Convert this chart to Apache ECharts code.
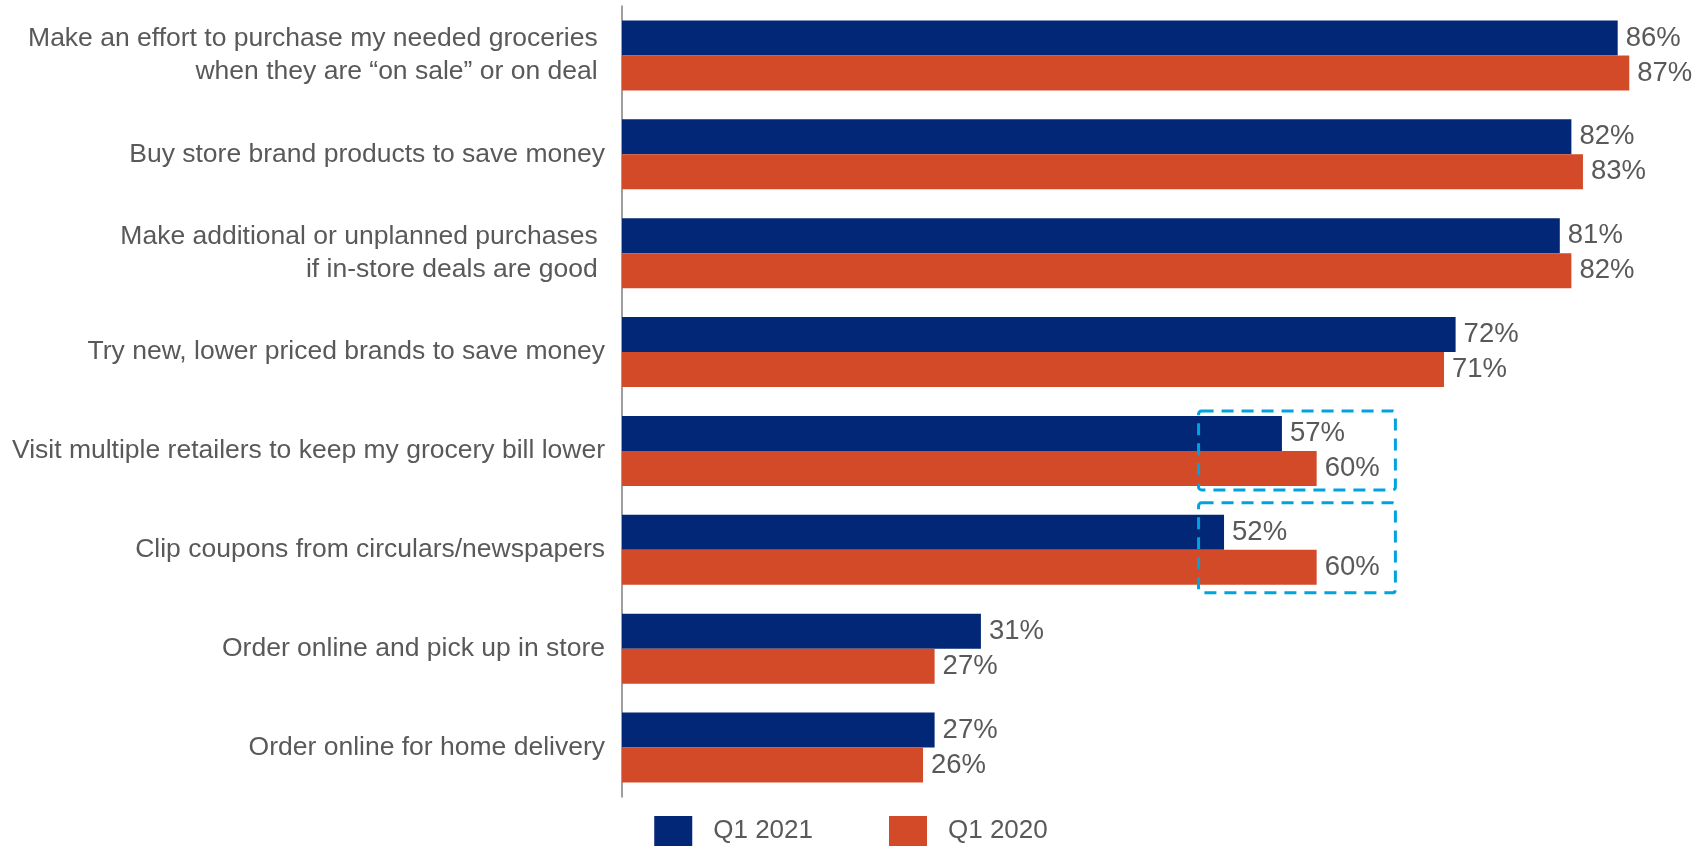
<!DOCTYPE html>
<html>
<head>
<meta charset="utf-8">
<style>
  html, body { margin: 0; padding: 0; background: #ffffff; }
  #chart { width: 1702px; height: 846px; }
</style>
<script src="https://cdn.jsdelivr.net/npm/echarts@6/dist/echarts.min.js"></script>
</head>
<body>
<div id="chart"></div>
<script>
// Grocery saving behaviours, share of shoppers (%)
const categories = [
  'Make an effort to purchase my needed groceries \nwhen they are \u201Con sale\u201D or on deal ',
  'Buy store brand products to save money',
  'Make additional or unplanned purchases \nif in-store deals are good ',
  'Try new, lower priced brands to save money',
  'Visit multiple retailers to keep my grocery bill lower',
  'Clip coupons from circulars/newspapers',
  'Order online and pick up in store',
  'Order online for home delivery'
];
const seriesNames = ['Q1 2021', 'Q1 2020'];
const q1_2021 = [86, 82, 81, 72, 57, 52, 31, 27];
const q1_2020 = [87, 83, 82, 71, 60, 60, 27, 26];
// Rows called out with a dashed outline
const highlightedRows = [4, 5];

const NAVY = '#012776';
const ORANGE = '#D34A29';
const TEXT = '#595959';
const FONT = '"Liberation Sans", Arial, sans-serif';

const chart = echarts.init(document.getElementById('chart'));

const valueLabel = {
  show: true,
  position: 'right',
  distance: 8,
  formatter: '{c}%',
  color: TEXT,
  fontFamily: FONT,
  fontSize: 27.5,
  padding: [4, 0, 0, 0]
};

chart.setOption({
  animation: false,
  backgroundColor: '#ffffff',
  grid: { left: 622, right: 38, top: 6, bottom: 49, containLabel: false },
  xAxis: {
    type: 'value',
    min: 0,
    max: 90,
    show: false
  },
  yAxis: {
    type: 'category',
    data: categories,
    inverse: true,
    axisLine: { show: true, lineStyle: { color: '#7f7f7f', width: 1.5 } },
    axisTick: { show: false },
    axisLabel: {
      margin: 17,
      color: TEXT,
      fontFamily: FONT,
      fontSize: 26.5,
      lineHeight: 33,
      align: 'right',
      padding: [5, 0, 0, 0]
    }
  },
  legend: {
    data: seriesNames,
    left: 'center',
    top: 811,
    itemWidth: 38,
    itemHeight: 30,
    itemGap: 76,
    icon: 'rect',
    textStyle: { color: TEXT, fontFamily: FONT, fontSize: 26, padding: [0, 0, 0, 16] }
  },
  series: [
    {
      name: seriesNames[0],
      type: 'bar',
      data: q1_2021,
      barWidth: 35,
      barGap: '0%',
      itemStyle: { color: NAVY },
      label: valueLabel
    },
    {
      name: seriesNames[1],
      type: 'bar',
      data: q1_2020,
      barWidth: 35,
      barGap: '0%',
      itemStyle: { color: ORANGE },
      label: valueLabel
    }
  ]
});

// Dashed call-out boxes around the highlighted rows
const boxFrom = 49.8, boxTo = 66.8;
const boxExtents = [[-40, 39], [-47, 43]];
const graphics = highlightedRows.map((row, i) => {
  const a = chart.convertToPixel({ gridIndex: 0 }, [boxFrom, row]);
  const b = chart.convertToPixel({ gridIndex: 0 }, [boxTo, row]);
  const [up, down] = boxExtents[i];
  return {
    type: 'rect',
    shape: { x: a[0], y: a[1] + up, width: b[0] - a[0], height: down - up, r: 3 },
    style: { fill: 'none', stroke: '#00A2DF', lineWidth: 3, lineDash: [12, 8] },
    z: 10
  };
});
chart.setOption({ graphic: graphics });
</script>
</body>
</html>
